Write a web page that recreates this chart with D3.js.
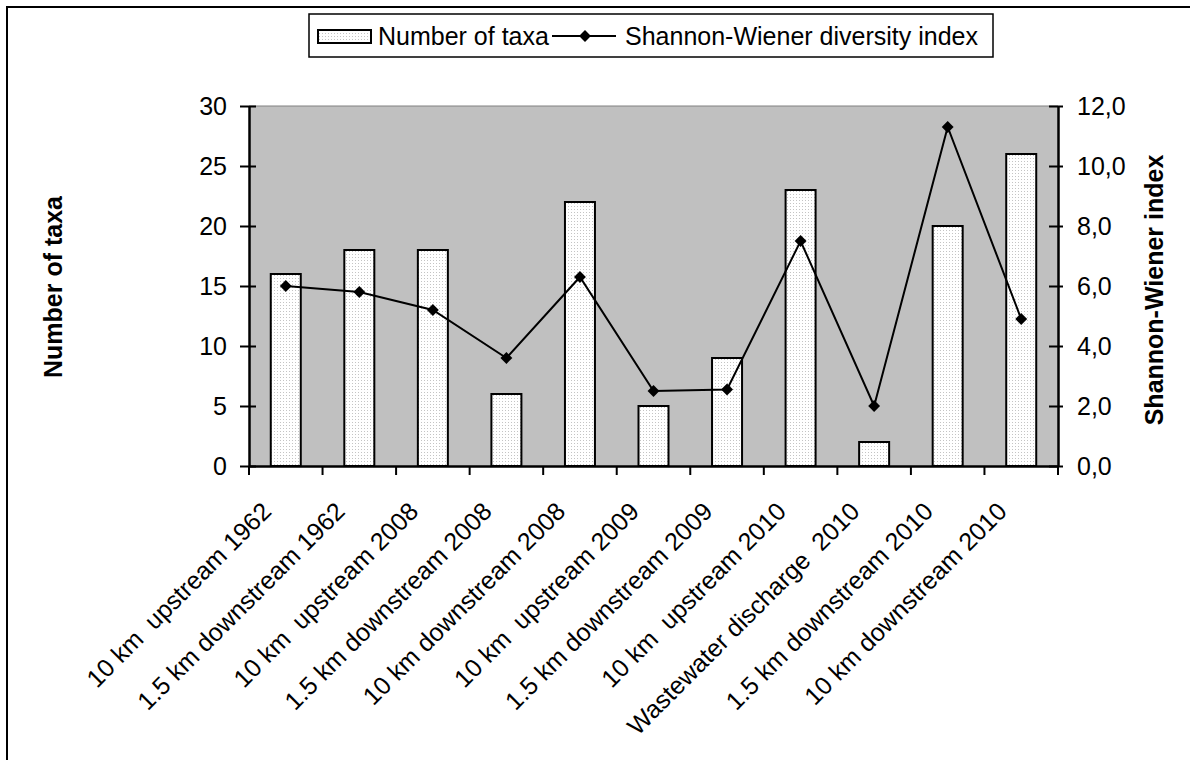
<!DOCTYPE html>
<html>
<head>
<meta charset="utf-8">
<script src="https://cdn.jsdelivr.net/npm/d3@7"></script>
<style>
  body { margin: 0; background: #fff; }
  text { font-family: "Liberation Sans", Arial, sans-serif; }
</style>
</head>
<body>
<div class="chart"></div>
<script>
const sites = ['10 km  upstream 1962', '1.5 km downstream 1962', '10 km  upstream 2008',
               '1.5 km downstream 2008', '10 km downstream 2008', '10 km  upstream 2009',
               '1.5 km downstream 2009', '10 km  upstream 2010', 'Wastewater discharge  2010',
               '1.5 km downstream 2010', '10 km downstream 2010'];
const taxa = [16, 18, 18, 6, 22, 5, 9, 23, 2, 20, 26];
const shannon = [6.0, 5.8, 5.2, 3.6, 6.3, 2.5, 2.55, 7.5, 2.0, 11.3, 4.9];
const leftTicks = [0, 5, 10, 15, 20, 25, 30];
const rightTicks = [0, 2, 4, 6, 8, 10, 12];

const W = 1190, H = 760;
const margin = {top: 106, right: 132, bottom: 294, left: 249};
const width = W - margin.left - margin.right;
const height = H - margin.top - margin.bottom;
const fs = 25;

const root = d3.select('.chart').append('svg')
    .attr('width', W).attr('height', H);

// dotted fill for bars
const defs = root.append('defs');
const pat = defs.append('pattern')
    .attr('id', 'dots').attr('patternUnits', 'userSpaceOnUse')
    .attr('width', 3).attr('height', 3);
pat.append('rect').attr('width', 3).attr('height', 3).attr('fill', '#fff');
pat.append('rect').attr('x', 1).attr('y', 1).attr('width', 1).attr('height', 1).attr('fill', '#c4c4c4');

// outer frame
root.append('rect')
    .attr('x', 7).attr('y', 7).attr('width', W + 20).attr('height', H + 20)
    .attr('fill', 'none').attr('stroke', '#000').attr('stroke-width', 2);

const svg = root.append('g')
    .attr('transform', 'translate(' + margin.left + ',' + margin.top + ')');

const x = d3.scaleBand().domain(sites).range([0, width]);
const yL = d3.scaleLinear().domain([0, 30]).range([height, 0]);
const yR = d3.scaleLinear().domain([0, 12]).range([height, 0]);

svg.append('rect')
    .attr('width', width).attr('height', height)
    .attr('fill', '#c0c0c0');
svg.append('line')
    .attr('x1', 0).attr('x2', width).attr('y1', 0).attr('y2', 0)
    .attr('stroke', '#808080').attr('stroke-width', 1);

const barW = 30;
svg.selectAll('.bar')
    .data(taxa)
    .enter()
    .append('rect')
    .attr('class', 'bar')
    .attr('x', (d, i) => x(sites[i]) + x.bandwidth() / 2 - barW / 2)
    .attr('y', d => yL(d))
    .attr('width', barW)
    .attr('height', d => height - yL(d))
    .attr('fill', 'url(#dots)')
    .attr('stroke', '#000').attr('stroke-width', 2);

const line = d3.line()
    .x((d, i) => x(sites[i]) + x.bandwidth() / 2)
    .y(d => yR(d));
svg.append('path')
    .datum(shannon)
    .attr('d', line)
    .attr('fill', 'none').attr('stroke', '#000').attr('stroke-width', 2);

const diamond = d3.symbol().type(d3.symbolDiamond2).size(90);
svg.selectAll('.pt')
    .data(shannon)
    .enter()
    .append('path')
    .attr('class', 'pt')
    .attr('d', diamond)
    .attr('transform', (d, i) => 'translate(' + (x(sites[i]) + x.bandwidth() / 2) + ',' + yR(d) + ')')
    .attr('fill', '#000');

// axes
const leftAxis = d3.axisLeft(yL).tickValues(leftTicks).tickSize(0).tickPadding(22);
const gL = svg.append('g').attr('class', 'axis').call(leftAxis);
gL.selectAll('.tick').append('line').attr('x1', -9).attr('x2', 7).attr('stroke', '#000').attr('stroke-width', 2);

const rightAxis = d3.axisRight(yR).tickValues(rightTicks).tickSize(0).tickPadding(19)
    .tickFormat(d => d3.format('.1f')(d).replace('.', ','));
const gR = svg.append('g').attr('class', 'axis')
    .attr('transform', 'translate(' + width + ',0)').call(rightAxis);
gR.selectAll('.tick').append('line').attr('x1', -9).attr('x2', 5).attr('stroke', '#000').attr('stroke-width', 2);

const bottomAxis = d3.axisBottom(x).tickSize(0).tickFormat('');
const gB = svg.append('g').attr('class', 'axis')
    .attr('transform', 'translate(0,' + height + ')').call(bottomAxis);
gB.selectAll('.tick').remove();
gB.selectAll('.xt')
    .data(d3.range(sites.length + 1))
    .enter()
    .append('line')
    .attr('x1', i => i * x.step()).attr('x2', i => i * x.step())
    .attr('y1', 0).attr('y2', 9)
    .attr('stroke', '#000').attr('stroke-width', 2);

svg.selectAll('.axis .domain').attr('stroke', '#000').attr('stroke-width', 2.5);
svg.selectAll('.axis text').attr('font-size', fs).attr('fill', '#000')
    .style('font-family', '"Liberation Sans", Arial, sans-serif');

svg.selectAll('.xlab')
    .data(sites)
    .enter()
    .append('text')
    .attr('class', 'xlab')
    .attr('transform', d => 'translate(' + (x(d) + x.bandwidth() / 2 - 13) + ',' + (height + 47) + ') rotate(-45)')
    .attr('text-anchor', 'end')
    .attr('font-size', fs)
    .style('white-space', 'pre')
    .text(d => d);

// axis titles
root.append('text')
    .attr('transform', 'translate(62,' + (margin.top + height / 2 + 1) + ') rotate(-90)')
    .attr('text-anchor', 'middle')
    .attr('font-size', fs).attr('font-weight', 'bold')
    .text('Number of taxa');
root.append('text')
    .attr('transform', 'translate(1163,' + (margin.top + height / 2 + 4) + ') rotate(-90)')
    .attr('text-anchor', 'middle')
    .attr('font-size', fs).attr('font-weight', 'bold')
    .text('Shannon-Wiener index');

// legend
const lg = root.append('g').attr('transform', 'translate(309,14)');
lg.append('rect').attr('width', 684).attr('height', 43)
    .attr('fill', '#fff').attr('stroke', '#000').attr('stroke-width', 1.5);
lg.append('rect').attr('x', 9).attr('y', 16).attr('width', 53).attr('height', 13)
    .attr('fill', 'url(#dots)').attr('stroke', '#000').attr('stroke-width', 2);
lg.append('text').attr('x', 69).attr('y', 31).attr('font-size', fs).text('Number of taxa');
lg.append('line').attr('x1', 243).attr('x2', 307).attr('y1', 22).attr('y2', 22)
    .attr('stroke', '#000').attr('stroke-width', 2);
lg.append('path').attr('d', diamond).attr('transform', 'translate(276,22)').attr('fill', '#000');
lg.append('text').attr('x', 316).attr('y', 31).attr('font-size', fs).text('Shannon-Wiener diversity index');
</script>
</body>
</html>
